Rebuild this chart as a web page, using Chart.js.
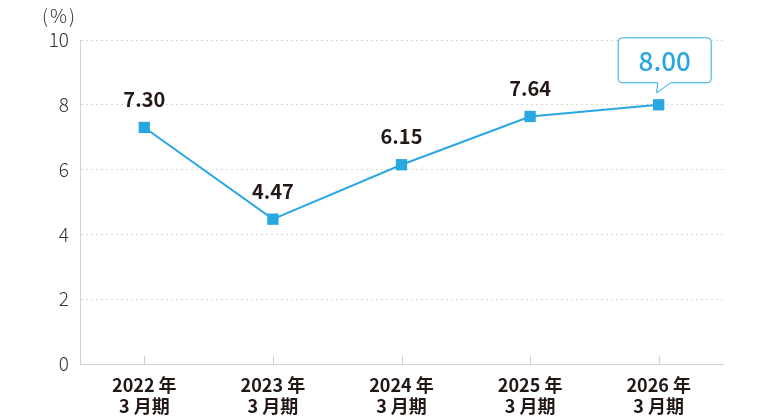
<!DOCTYPE html>
<html>
<head>
<meta charset="utf-8">
<script src="https://cdn.jsdelivr.net/npm/chart.js@4"></script>
<style>
  body { margin: 0; background: #fff; }
  #wrap { position: relative; width: 770px; height: 420px; }
  #unit { position: absolute; left: 42px; top: 1px; font: 300 19px "Noto Sans CJK JP", sans-serif; color: #333; letter-spacing: 2px; }
</style>
</head>
<body>
<div id="wrap">
  <canvas id="myChart" width="770" height="420"></canvas>
  <div id="unit">(%)</div>
</div>
<script>
var categories = [['2022 年', '3 月期'], ['2023 年', '3 月期'], ['2024 年', '3 月期'], ['2025 年', '3 月期'], ['2026 年', '3 月期']];
var values = [7.30, 4.47, 6.15, 7.64, 8.00];
var yTicks = [0, 2, 4, 6, 8, 10];

var blue = '#29a7e1';
var fontFam = '"Noto Sans CJK JP", "Noto Sans", sans-serif';

// short tick marks pointing up from the x axis
var innerTicks = {
  id: 'innerTicks',
  afterDraw: function(chart) {
    var ctx = chart.ctx;
    var x = chart.scales.x;
    var bottom = chart.chartArea.bottom;
    ctx.save();
    ctx.strokeStyle = '#d0d0d0';
    ctx.lineWidth = 1;
    x.ticks.forEach(function(t, i) {
      var px = Math.round(x.getPixelForTick(i)) + 0.5;
      ctx.beginPath();
      ctx.moveTo(px, bottom - 8);
      ctx.lineTo(px, bottom);
      ctx.stroke();
    });
    ctx.restore();
  }
};

// value labels, last one in a callout box
var valueLabels = {
  id: 'valueLabels',
  afterDatasetsDraw: function(chart) {
    var ctx = chart.ctx;
    var pts = chart.getDatasetMeta(0).data;
    ctx.save();
    ctx.textAlign = 'center';
    ctx.textBaseline = 'middle';
    pts.forEach(function(p, i) {
      var txt = values[i].toFixed(2);
      if (i === values.length - 1) {
        var cx = p.x + 6, bw = 93, bh = 45;
        var left = cx - bw / 2, top = p.y - 22 - bh, r = 4;
        ctx.beginPath();
        ctx.moveTo(left + r, top);
        ctx.lineTo(left + bw - r, top);
        ctx.quadraticCurveTo(left + bw, top, left + bw, top + r);
        ctx.lineTo(left + bw, top + bh - r);
        ctx.quadraticCurveTo(left + bw, top + bh, left + bw - r, top + bh);
        ctx.lineTo(p.x + 12, top + bh);
        ctx.lineTo(p.x - 2, p.y - 12);
        ctx.lineTo(p.x - 1, top + bh);
        ctx.lineTo(left + r, top + bh);
        ctx.quadraticCurveTo(left, top + bh, left, top + bh - r);
        ctx.lineTo(left, top + r);
        ctx.quadraticCurveTo(left, top, left + r, top);
        ctx.closePath();
        ctx.fillStyle = '#fff';
        ctx.fill();
        ctx.strokeStyle = blue;
        ctx.lineWidth = 1;
        ctx.stroke();
        ctx.fillStyle = blue;
        ctx.font = '500 26px ' + fontFam;
        ctx.fillText(txt, cx, top + bh / 2 + 1);
      } else {
        ctx.fillStyle = '#231815';
        ctx.font = 'bold 20px ' + fontFam;
        ctx.fillText(txt, p.x, p.y - 28);
      }
    });
    ctx.restore();
  }
};

var ctx = document.getElementById('myChart').getContext('2d');
var chart = new Chart(ctx, {
  type: 'line',
  data: {
    labels: categories,
    datasets: [{
      data: values,
      borderColor: blue,
      borderWidth: 2,
      backgroundColor: blue,
      pointStyle: 'rect',
      pointRadius: 8,
      pointBackgroundColor: blue,
      pointBorderWidth: 0,
      tension: 0
    }]
  },
  options: {
    responsive: false,
    animation: false,
    layout: { padding: { top: 40, right: 47, left: 0, bottom: 0 } },
    plugins: {
      legend: { display: false },
      tooltip: { enabled: false }
    },
    scales: {
      x: {
        offset: true,
        grid: { display: false, drawTicks: false },
        border: { display: true, color: '#d0d0d0' },
        ticks: {
          padding: 10,
          color: '#231815',
          font: { family: fontFam, size: 18, weight: 'bold', lineHeight: 1.2 }
        },
        afterFit: function(s) { s.height = 56; }
      },
      y: {
        min: 0,
        max: 10,
        afterBuildTicks: function(s) { s.ticks = yTicks.map(function(v) { return { value: v }; }); },
        grid: { color: '#d8d8d8', drawTicks: false },
        border: { display: true, color: '#d0d0d0', dash: [2, 3] },
        ticks: {
          padding: 11,
          color: '#333',
          font: { family: fontFam, size: 19, weight: 300 }
        },
        afterFit: function(s) { s.width = 80; }
      }
    }
  },
  plugins: [innerTicks, valueLabels]
});
</script>
</body>
</html>
